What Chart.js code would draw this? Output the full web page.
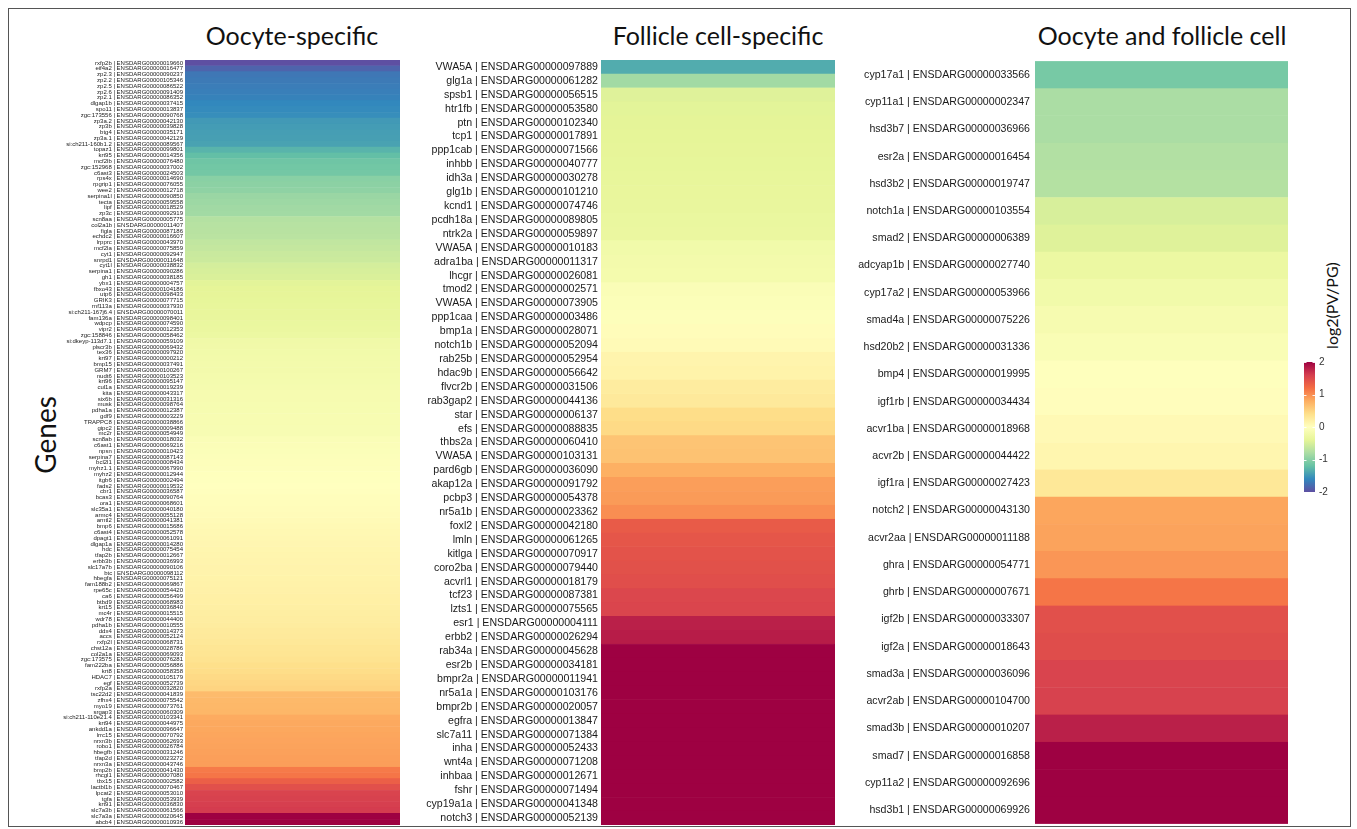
<!DOCTYPE html>
<html><head><meta charset="utf-8">
<script src="https://cdn.jsdelivr.net/npm/chart.js@4.4.1/dist/chart.umd.min.js"></script>
<style>
html,body{margin:0;padding:0;background:#fff;width:1357px;height:829px;overflow:hidden;}
#frame{position:absolute;left:8px;top:8px;width:1341px;height:817px;border:1px solid #555;}
.title{position:absolute;top:20px;font-family:Lato,'Open Sans',sans-serif;font-size:25px;color:#111;transform:translateX(-50%);white-space:nowrap;}
.vt{position:absolute;font-family:Lato,'Open Sans',sans-serif;color:#111;white-space:nowrap;transform-origin:center center;}
canvas{position:absolute;}
</style></head><body>
<div id="frame"></div>
<div class="title" style="left:292px">Oocyte-specific</div>
<div class="title" style="left:718px">Follicle cell-specific</div>
<div class="title" style="left:1162px">Oocyte and follicle cell</div>
<div class="vt" id="genesLbl" style="font-size:28px;">Genes</div>
<div class="vt" id="cbLbl" style="font-size:16px;">log2(PV/PG)</div>
<canvas id="c1" width="350" height="785" style="left:50px;top:50px"></canvas>
<canvas id="c2" width="435" height="785" style="left:400px;top:50px"></canvas>
<canvas id="c3" width="453" height="785" style="left:835px;top:50px"></canvas>
<canvas id="cb" width="45" height="150" style="left:1300px;top:352px"></canvas>
<script>
// ---------- DATA ----------
const oocyteGenes = ['rxfp2b','eif4a2','zp2.3','zp2.2','zp2.5','zp2.6','zp2.1','dlgap1b','spo11','zgc:173556',
'zp3a.2','zp3b','btg4','zp3a.1','si:ch211-160b1.2','topaz1','krt95','mcf2lb','zgc:152968','c6ast3',
'rps4x','rpgrip1','wee2','serpina1l','tecta','lipf','zp3c','scn8aa','col2a1b','figla',
'echdc2','lrpprc','mcf2la','cyt1','snrpd1','cyt1l','serpina1','gh1','ybx1','fbxo43',
'utp6','GRIK3','rnf113a','si:ch211-167j6.4','fam136a','wdpcp','vipr2','zgc:158846','si:dkeyp-113d7.1','plscr3b',
'tex36','krt97','bmp15','GRM7','nudt6','krt96','cul1a','kita','six6b','musk',
'pdha1a','gdf9','TRAPPC8','gipc2','mc2r','scn8ab','c6ast1','npsn','serpina7','bcl2l1',
'myhz1.1','myhz2','itgb6','fads2','cbr1','bcas3','ora1','slc35a1','armc4','arntl2',
'bmp6','c6ast4','dpagt1','dlgap1a','hdc','tfap2b','erbb3b','slc17a7b','btc','hbegfa',
'fam188b2','rpe65c','ca6','btbd9','krt15','mc4r','wdr78','pdha1b','ddx4','accs',
'rxfp2l','chst12a','col2a1a','zgc:173575','fam222ba','krt8','HDAC7','egf','rxfp2a','tsc22d2',
'zfhx4','myo19','srgap3','si:ch211-110e21.4','krt94','ankdd1a','lrrc15','nrxn3b','robo1','hbegfb',
'tfap2d','nrxn3a','bmp2b','rhcgl1','tbx15','lactbl1b','lpcat2','tgfa','krt91','slc7a3b',
'slc7a3a','abcb4'];
const oocyteIds = ['ENSDARG00000019660','ENSDARG00000016477','ENSDARG00000090237','ENSDARG00000105346','ENSDARG00000086522','ENSDARG00000091409','ENSDARG00000086352','ENSDARG00000037415','ENSDARG00000013837','ENSDARG00000090768',
'ENSDARG00000042130','ENSDARG00000039828','ENSDARG00000035171','ENSDARG00000042129','ENSDARG00000089567','ENSDARG00000099801','ENSDARG00000014356','ENSDARG00000076480','ENSDARG00000037002','ENSDARG00000024503',
'ENSDARG00000014690','ENSDARG00000076055','ENSDARG00000012718','ENSDARG00000090850','ENSDARG00000059558','ENSDARG00000018529','ENSDARG00000092919','ENSDARG00000005775','ENSDARG00000011407','ENSDARG00000087186',
'ENSDARG00000016607','ENSDARG00000043970','ENSDARG00000075859','ENSDARG00000092947','ENSDARG00000011648','ENSDARG00000038832','ENSDARG00000090286','ENSDARG00000038185','ENSDARG00000004757','ENSDARG00000104186',
'ENSDARG00000098433','ENSDARG00000077715','ENSDARG00000037930','ENSDARG00000070011','ENSDARG00000098401','ENSDARG00000074590','ENSDARG00000012353','ENSDARG00000058462','ENSDARG00000059109','ENSDARG00000069432',
'ENSDARG00000097920','ENSDARG00000000212','ENSDARG00000037491','ENSDARG00000100267','ENSDARG00000103523','ENSDARG00000095147','ENSDARG00000019239','ENSDARG00000043317','ENSDARG00000031316','ENSDARG00000098764',
'ENSDARG00000012387','ENSDARG00000003229','ENSDARG00000038866','ENSDARG00000009488','ENSDARG00000054949','ENSDARG00000018032','ENSDARG00000069216','ENSDARG00000010423','ENSDARG00000087143','ENSDARG00000008434',
'ENSDARG00000067990','ENSDARG00000012944','ENSDARG00000002494','ENSDARG00000019532','ENSDARG00000036587','ENSDARG00000090764','ENSDARG00000068601','ENSDARG00000040180','ENSDARG00000055128','ENSDARG00000041381',
'ENSDARG00000015686','ENSDARG00000052578','ENSDARG00000061091','ENSDARG00000014280','ENSDARG00000075454','ENSDARG00000012667','ENSDARG00000036993','ENSDARG00000090106','ENSDARG00000098112','ENSDARG00000075121',
'ENSDARG00000069867','ENSDARG00000054420','ENSDARG00000056499','ENSDARG00000068983','ENSDARG00000036840','ENSDARG00000015515','ENSDARG00000044400','ENSDARG00000010555','ENSDARG00000014373','ENSDARG00000052124',
'ENSDARG00000068731','ENSDARG00000028786','ENSDARG00000069093','ENSDARG00000076281','ENSDARG00000056886','ENSDARG00000058358','ENSDARG00000105179','ENSDARG00000052739','ENSDARG00000032820','ENSDARG00000041839',
'ENSDARG00000075542','ENSDARG00000073761','ENSDARG00000060309','ENSDARG00000103341','ENSDARG00000044975','ENSDARG00000096647','ENSDARG00000070792','ENSDARG00000062693','ENSDARG00000026784','ENSDARG00000031246',
'ENSDARG00000023272','ENSDARG00000043746','ENSDARG00000041430','ENSDARG00000007080','ENSDARG00000002582','ENSDARG00000070467','ENSDARG00000053010','ENSDARG00000053939','ENSDARG00000036830','ENSDARG00000061566',
'ENSDARG00000020645','ENSDARG00000010936'];
const oocyteValues = [-2.0,-1.85,-1.72,-1.7,-1.68,-1.66,-1.64,-1.6,-1.58,-1.56,
-1.48,-1.46,-1.45,-1.44,-1.42,-1.3,-1.22,-1.15,-1.13,-1.12,
-1.0,-0.98,-0.96,-0.9,-0.88,-0.86,-0.85,-0.74,-0.72,-0.71,
-0.7,-0.65,-0.63,-0.6,-0.58,-0.52,-0.5,-0.48,-0.42,-0.4,
-0.39,-0.38,-0.37,-0.36,-0.35,-0.33,-0.32,-0.3,-0.24,-0.23,
-0.22,-0.21,-0.2,-0.19,-0.18,-0.17,-0.16,-0.15,-0.15,-0.14,
-0.14,-0.13,-0.13,-0.12,-0.12,-0.08,-0.07,-0.06,-0.05,-0.04,
-0.03,-0.02,-0.01,0.0,0.01,0.02,0.03,0.04,0.05,0.06,
0.08,0.09,0.1,0.11,0.12,0.13,0.14,0.15,0.15,0.16,
0.17,0.18,0.19,0.2,0.21,0.22,0.23,0.25,0.27,0.28,
0.3,0.32,0.34,0.36,0.4,0.42,0.45,0.47,0.5,0.7,
0.71,0.72,0.73,0.82,0.83,0.84,0.85,0.86,0.87,0.88,
0.89,0.9,1.12,1.15,1.32,1.45,1.55,1.57,1.59,1.61,
2.0,2.0];

const follicleGenes = ['VWA5A','glg1a','spsb1','htr1fb','ptn','tcp1','ppp1cab','inhbb','idh3a','glg1b',
'kcnd1','pcdh18a','ntrk2a','VWA5A','adra1ba','lhcgr','tmod2','VWA5A','ppp1caa','bmp1a',
'notch1b','rab25b','hdac9b','flvcr2b','rab3gap2','star','efs','thbs2a','VWA5A','pard6gb',
'akap12a','pcbp3','nr5a1b','foxl2','lmln','kitlga','coro2ba','acvrl1','tcf23','lzts1',
'esr1','erbb2','rab34a','esr2b','bmpr2a','nr5a1a','bmpr2b','egfra','slc7a11','inha',
'wnt4a','inhbaa','fshr','cyp19a1a','notch3'];
const follicleIds = ['ENSDARG00000097889','ENSDARG00000061282','ENSDARG00000056515','ENSDARG00000053580','ENSDARG00000102340','ENSDARG00000017891','ENSDARG00000071566','ENSDARG00000040777','ENSDARG00000030278','ENSDARG00000101210',
'ENSDARG00000074746','ENSDARG00000089805','ENSDARG00000059897','ENSDARG00000010183','ENSDARG00000011317','ENSDARG00000026081','ENSDARG00000002571','ENSDARG00000073905','ENSDARG00000003486','ENSDARG00000028071',
'ENSDARG00000052094','ENSDARG00000052954','ENSDARG00000056642','ENSDARG00000031506','ENSDARG00000044136','ENSDARG00000006137','ENSDARG00000088835','ENSDARG00000060410','ENSDARG00000103131','ENSDARG00000036090',
'ENSDARG00000091792','ENSDARG00000054378','ENSDARG00000023362','ENSDARG00000042180','ENSDARG00000061265','ENSDARG00000070917','ENSDARG00000079440','ENSDARG00000018179','ENSDARG00000087381','ENSDARG00000075565',
'ENSDARG00000004111','ENSDARG00000026294','ENSDARG00000045628','ENSDARG00000034181','ENSDARG00000011941','ENSDARG00000103176','ENSDARG00000020057','ENSDARG00000013847','ENSDARG00000071384','ENSDARG00000052433',
'ENSDARG00000071208','ENSDARG00000012671','ENSDARG00000071494','ENSDARG00000041348','ENSDARG00000052139'];
const follicleValues = [-1.35,-0.85,-0.45,-0.42,-0.41,-0.4,-0.39,-0.38,-0.37,-0.36,
-0.35,-0.33,-0.32,-0.22,-0.2,-0.18,-0.08,-0.06,-0.04,0.04,
0.06,0.14,0.16,0.25,0.28,0.42,0.45,0.62,0.64,0.78,
0.9,0.92,1.0,1.35,1.4,1.42,1.44,1.46,1.52,1.54,
1.8,1.82,2.0,2.0,2.0,2.0,2.0,2.0,2.0,2.0,
2.0,2.0,2.0,2.0,2.0];

const bothGenes = ['cyp17a1','cyp11a1','hsd3b7','esr2a','hsd3b2','notch1a','smad2','adcyap1b','cyp17a2','smad4a',
'hsd20b2','bmp4','igf1rb','acvr1ba','acvr2b','igf1ra','notch2','acvr2aa','ghra','ghrb',
'igf2b','igf2a','smad3a','acvr2ab','smad3b','smad7','cyp11a2','hsd3b1'];
const bothIds = ['ENSDARG00000033566','ENSDARG00000002347','ENSDARG00000036966','ENSDARG00000016454','ENSDARG00000019747','ENSDARG00000103554','ENSDARG00000006389','ENSDARG00000027740','ENSDARG00000053966','ENSDARG00000075226',
'ENSDARG00000031336','ENSDARG00000019995','ENSDARG00000034434','ENSDARG00000018968','ENSDARG00000044422','ENSDARG00000027423','ENSDARG00000043130','ENSDARG00000011188','ENSDARG00000054771','ENSDARG00000007671',
'ENSDARG00000033307','ENSDARG00000018643','ENSDARG00000036096','ENSDARG00000104700','ENSDARG00000010207','ENSDARG00000016858','ENSDARG00000092696','ENSDARG00000069926'];
const bothValues = [-1.1,-0.8,-0.8,-0.75,-0.74,-0.5,-0.45,-0.3,-0.22,-0.15,
-0.1,-0.02,0.02,0.08,0.12,0.3,0.85,0.87,0.95,1.15,
1.45,1.47,1.55,1.57,1.8,2.0,2.0,2.0];

const colorTicks = [-2,-1,0,1,2];

// ---------- STYLE ----------
const spectral = ['#5e4fa2','#3288bd','#66c2a5','#abdda4','#e6f598','#ffffbf','#fee08b','#fdae61','#f46d43','#d53e4f','#9e0142'];
const VMIN = -2, VMAX = 2;
function hex2rgb(h){return [parseInt(h.substr(1,2),16),parseInt(h.substr(3,2),16),parseInt(h.substr(5,2),16)];}
function colorFor(v){
  let t = (Math.max(VMIN, Math.min(VMAX, v)) - VMIN) / (VMAX - VMIN) * (spectral.length - 1);
  let i = Math.min(Math.floor(t), spectral.length - 2), f = t - i;
  const a = hex2rgb(spectral[i]), b = hex2rgb(spectral[i+1]);
  return 'rgb(' + a.map((x,k)=>Math.round(x + (b[k]-x)*f)).join(',') + ')';
}

function heatmap(id, genes, ids, values, axisWidth, fontSize, pad){
  const labels = genes.map((g,i)=> g + ' | ' + ids[i]);
  const colors = values.map(colorFor);
  return new Chart(document.getElementById(id), {
    type: 'bar',
    data: { labels, datasets: [{ data: values.map(()=>[0,1]), backgroundColor: colors, borderColor: colors, borderWidth: 0.3, borderSkipped: false, barPercentage: 1, categoryPercentage: 1 }] },
    options: {
      indexAxis: 'y', responsive: false, animation: false, devicePixelRatio: 1,
      layout: { padding: { top: 10, bottom: 10, left: 0, right: 0 } },
      plugins: { legend: { display: false }, tooltip: { enabled: false } },
      scales: {
        x: { display: false, min: 0, max: 1 },
        y: { grid: { display: false, drawTicks: false }, border: { display: false },
             ticks: { autoSkip: false, padding: pad, color: '#1a1a1a', font: { family: "'Liberation Sans', Arial, sans-serif", size: fontSize } },
             afterFit: s => { s.width = axisWidth; } }
      }
    }
  });
}

heatmap('c1', oocyteGenes, oocyteIds, oocyteValues, 135, 6, 2);
heatmap('c2', follicleGenes, follicleIds, follicleValues, 201, 10.6, 3);
heatmap('c3', bothGenes, bothIds, bothValues, 200, 10.6, 5);

// colour bar
const tickMarks = {
  id: 'tickMarks',
  afterDatasetsDraw(chart){
    const {ctx, chartArea, scales} = chart;
    ctx.save(); ctx.strokeStyle = 'rgba(255,255,255,0.9)'; ctx.lineWidth = 1;
    colorTicks.forEach(v => {
      const y = Math.round(scales.y.getPixelForValue(v)) + 0.5;
      ctx.beginPath(); ctx.moveTo(chartArea.left, y); ctx.lineTo(chartArea.left + 2.5, y);
      ctx.moveTo(chartArea.right - 2.5, y); ctx.lineTo(chartArea.right, y); ctx.stroke();
    });
    ctx.restore();
  }
};
new Chart(document.getElementById('cb'), {
  type: 'bar',
  data: { labels: ['log2(PV/PG)'], datasets: [{
    data: [[VMIN, VMAX]], barPercentage: 1, categoryPercentage: 1, borderWidth: 0,
    backgroundColor: (ctx) => {
      const ch = ctx.chart, sc = ch.scales.y;
      if (!sc || !ch.chartArea) return '#ffffbf';
      const g = ch.ctx.createLinearGradient(0, sc.getPixelForValue(VMIN), 0, sc.getPixelForValue(VMAX));
      spectral.forEach((c,i)=> g.addColorStop(i/(spectral.length-1), c));
      return g;
    }
  }]},
  options: {
    responsive: false, animation: false, devicePixelRatio: 1,
    layout: { padding: { top: 10, bottom: 8, left: 4, right: 0 } },
    plugins: { legend: { display: false }, tooltip: { enabled: false } },
    scales: {
      x: { display: false },
      y: { position: 'right', min: VMIN, max: VMAX, grid: { display: false, drawTicks: false }, border: { display: false },
           afterBuildTicks: s => { s.ticks = colorTicks.map(v => ({ value: v })); },
           ticks: { padding: 4, color: '#333', font: { family: "'Liberation Sans', Arial, sans-serif", size: 10 } },
           afterFit: s => { s.width = 30; } }
    }
  },
  plugins: [tickMarks]
});

// rotated labels
function placeRot(el, cx, cy){
  const w = el.offsetWidth, h = el.offsetHeight;
  el.style.left = (cx - w/2) + 'px'; el.style.top = (cy - h/2) + 'px';
  el.style.transform = 'rotate(-90deg)';
}
placeRot(document.getElementById('genesLbl'), 45, 435);
placeRot(document.getElementById('cbLbl'), 1331, 305);
</script>
</body></html>
